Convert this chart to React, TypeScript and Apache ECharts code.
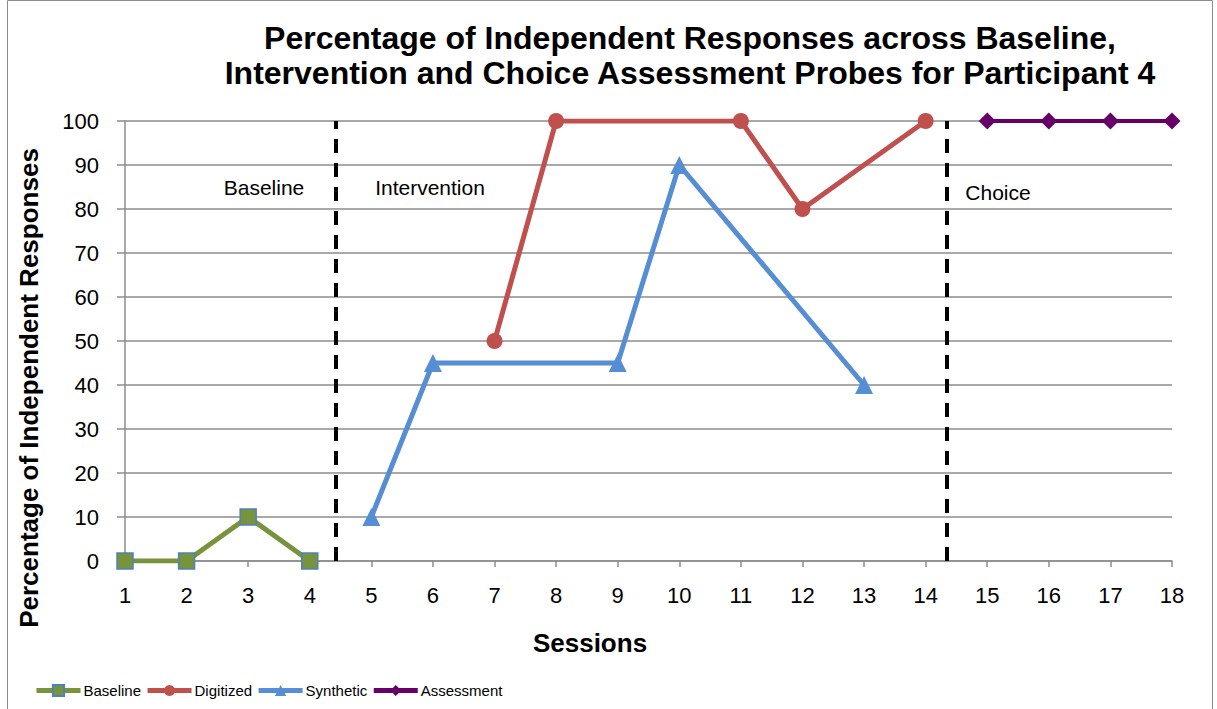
import React, { useEffect, useRef } from "react";
import * as echarts from "echarts";

const baseline: [number, number][] = [[1, 0], [2, 0], [3, 10], [4, 0]];
const digitized: [number, number][] = [[7, 50], [8, 100], [11, 100], [12, 80], [14, 100]];
const synthetic: [number, number][] = [[5, 10], [6, 45], [9, 45], [10, 90], [13, 40]];
const assessment: [number, number][] = [[15, 100], [16, 100], [17, 100], [18, 100]];

// phase boundaries (in session units) and phase labels
const phaseLines = [4.43, 14.34];
const phaseLabels = ["Baseline", "Intervention", "Choice"];

const FONT = "Arial, sans-serif";

export default function App() {
  const ref = useRef<HTMLDivElement>(null);

  useEffect(() => {
    if (!ref.current) return;
    const chart = echarts.init(ref.current, null, { renderer: "svg" });
    const phaseText = (text: string, x: number, y: number) => ({
      type: "text",
      x,
      y,
      style: { text, font: `21px ${FONT}`, fill: "#000", textAlign: "center", textVerticalAlign: "middle" },
    });
    chart.setOption({
      animation: false,
      backgroundColor: "#ffffff",
      textStyle: { fontFamily: FONT },
      grid: { left: 125, right: 45, top: 121, bottom: 148 },
      graphic: [
        {
          type: "rect",
          shape: { x: 7.5, y: 0.5, width: 1205, height: 720 },
          style: { fill: "none", stroke: "#8c8c8c", lineWidth: 1 },
          silent: true,
        },
        {
          type: "text",
          x: 690,
          y: 55,
          style: {
            text: "Percentage of Independent Responses across Baseline,\nIntervention and Choice Assessment Probes for Participant 4",
            font: `bold 32px ${FONT}`,
            fill: "#000",
            textAlign: "center",
            textVerticalAlign: "middle",
            lineHeight: 35,
          },
        },
        {
          type: "text",
          x: 590,
          y: 643,
          style: {
            text: "Sessions",
            font: `bold 26px ${FONT}`,
            fill: "#000",
            textAlign: "center",
            textVerticalAlign: "middle",
          },
        },
        {
          type: "text",
          x: 29,
          y: 388,
          rotation: Math.PI / 2,
          style: {
            text: "Percentage of Independent Responses",
            font: `bold 26px ${FONT}`,
            fill: "#000",
            textAlign: "center",
            textVerticalAlign: "middle",
          },
        },
        phaseText(phaseLabels[0], 264, 187),
        phaseText(phaseLabels[1], 430, 187),
        phaseText(phaseLabels[2], 998, 192),
      ],
      legend: {
        left: 29,
        bottom: 6,
        itemWidth: 44,
        itemHeight: 14,
        itemGap: 4,
        textStyle: { fontSize: 15, fontFamily: FONT, color: "#000", padding: [0, 0, 0, -2] },
        lineStyle: { width: 5 },
        data: ["Baseline", "Digitized", "Synthetic", "Assessment"],
      },
      xAxis: {
        type: "value",
        min: 1,
        max: 18,
        interval: 1,
        axisLine: { lineStyle: { color: "#8c8c8c", width: 1.5 } },
        axisTick: { show: true, length: 6, lineStyle: { color: "#8c8c8c", width: 1.5 } },
        axisLabel: { fontSize: 22, color: "#000", margin: 23, fontFamily: FONT },
        splitLine: { show: false },
      },
      yAxis: {
        type: "value",
        min: 0,
        max: 100,
        interval: 10,
        axisLine: { show: true, lineStyle: { color: "#8c8c8c", width: 1.5 } },
        axisTick: { show: true, length: 8, lineStyle: { color: "#8c8c8c", width: 1.5 } },
        axisLabel: { fontSize: 22, color: "#000", margin: 26, fontFamily: FONT },
        splitLine: { show: true, lineStyle: { color: "#8c8c8c", width: 1.5 } },
      },
      series: [
        {
          name: "Baseline",
          type: "line",
          data: baseline,
          symbol: "rect",
          symbolSize: 16,
          lineStyle: { color: "#77933C", width: 5 },
          itemStyle: { color: "#77933C", borderColor: "#4F81BD", borderWidth: 1.5 },
          z: 3,
          markLine: {
            silent: true,
            symbol: "none",
            label: { show: false },
            lineStyle: { color: "#000", width: 4, type: [14, 10] },
            data: phaseLines.map((x) => ({ xAxis: x })),
          },
        },
        {
          name: "Digitized",
          type: "line",
          data: digitized,
          symbol: "circle",
          symbolSize: 16,
          lineStyle: { color: "#C0504D", width: 5 },
          itemStyle: { color: "#C0504D" },
          z: 3,
        },
        {
          name: "Synthetic",
          type: "line",
          data: synthetic,
          symbol: "triangle",
          symbolSize: 18,
          lineStyle: { color: "#558ED5", width: 5 },
          itemStyle: { color: "#558ED5" },
          z: 3,
        },
        {
          name: "Assessment",
          type: "line",
          data: assessment,
          symbol: "diamond",
          symbolSize: 17,
          lineStyle: { color: "#660066", width: 4 },
          itemStyle: { color: "#660066" },
          z: 3,
        },
      ],
    });
    return () => chart.dispose();
  }, []);

  return (
    <div
      ref={ref}
      style={{ position: "fixed", left: 0, top: 0, width: 1217, height: 709 }}
    />
  );
}
